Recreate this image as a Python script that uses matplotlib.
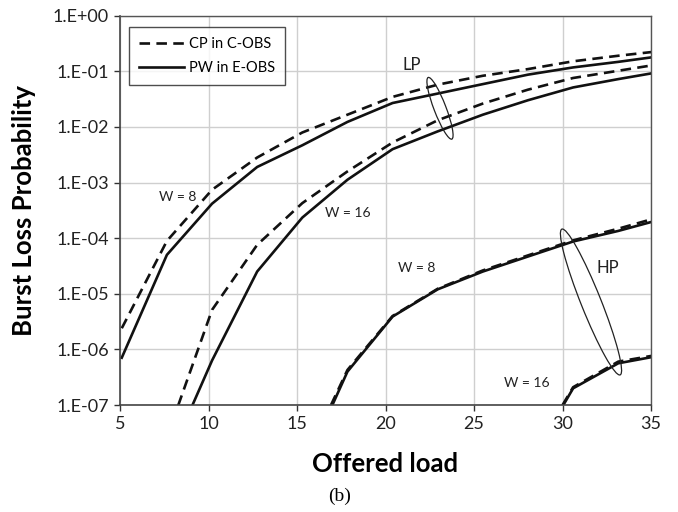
import numpy as np
import matplotlib
matplotlib.use("Agg")
import matplotlib.pyplot as plt
from matplotlib.patches import Ellipse
from matplotlib.transforms import IdentityTransform
from matplotlib.lines import Line2D

# ---- data (offered load knots, log10 of burst loss probability) ----
load = [5.1, 7.65, 10.2, 12.75, 15.3, 17.85, 20.4, 22.95, 25.5, 28.05, 30.6, 33.15, 35.7]

lp_w8_pw = [-6.15, -4.30, -3.38, -2.72, -2.33, -1.91, -1.57, -1.40, -1.23, -1.06, -0.93, -0.83, -0.72]
lp_w8_cp = [-5.62, -4.05, -3.13, -2.55, -2.10, -1.78, -1.46, -1.24, -1.08, -0.96, -0.82, -0.72, -0.63]

lp_w16_pw_x = load[1:]
lp_w16_pw = [-8.05, -6.20, -4.60, -3.63, -2.95, -2.40, -2.08, -1.78, -1.52, -1.29, -1.14, -1.00]
lp_w16_cp_x = load[1:]
lp_w16_cp = [-7.58, -5.29, -4.12, -3.37, -2.80, -2.28, -1.88, -1.58, -1.33, -1.12, -0.99, -0.86]

hp_w8_x = load[4:]
hp_w8_pw = [-8.20, -6.40, -5.41, -4.92, -4.60, -4.33, -4.06, -3.87, -3.65]
hp_w8_cp = [-8.10, -6.37, -5.40, -4.91, -4.58, -4.31, -4.04, -3.83, -3.60]

hp_w16_x = load[9:]
hp_w16_pw = [-8.09, -6.70, -6.25, -6.10]
hp_w16_cp = [-8.05, -6.68, -6.22, -6.08]

yticks = [1e0, 1e-1, 1e-2, 1e-3, 1e-4, 1e-5, 1e-6, 1e-7]
ytick_labels = ["1.E+00", "1.E-01", "1.E-02", "1.E-03", "1.E-04", "1.E-05", "1.E-06", "1.E-07"]
xticks = [5, 10, 15, 20, 25, 30, 35]

plt.rcParams['font.family'] = ['Lato', 'DejaVu Sans']

W, H = 678, 512
fig = plt.figure(figsize=(W / 100, H / 100), dpi=100)
ax = fig.add_axes([120 / W, 1 - 405 / H, 531 / W, (405 - 15.7) / H])

lw = 1.9
dash = (4, 2.4)
col = '#111111'

def p(v):
    return 10 ** np.array(v)

ax.plot(load, p(lp_w8_cp), color=col, lw=lw, dashes=dash)
ax.plot(load, p(lp_w8_pw), color=col, lw=lw)
ax.plot(lp_w16_cp_x, p(lp_w16_cp), color=col, lw=lw, dashes=dash)
ax.plot(lp_w16_pw_x, p(lp_w16_pw), color=col, lw=lw)
ax.plot(hp_w8_x, p(hp_w8_cp), color=col, lw=lw, dashes=dash)
ax.plot(hp_w8_x, p(hp_w8_pw), color=col, lw=lw)
ax.plot(hp_w16_x, p(hp_w16_cp), color=col, lw=lw, dashes=dash)
ax.plot(hp_w16_x, p(hp_w16_pw), color=col, lw=lw)

ax.set_yscale('log')
ax.set_xlim(5, 35)
ax.set_ylim(1e-7, 1e0)
ax.set_yticks(yticks)
ax.set_yticklabels(ytick_labels)
ax.minorticks_off()
ax.set_xticks(xticks)
ax.tick_params(axis='both', labelsize=13, colors='#333333', labelcolor='#222222',
               length=4, width=1, direction='out', pad=4)
ax.grid(True, color='#cfcfcf', lw=1)
ax.set_axisbelow(True)
for s in ['left', 'bottom']:
    ax.spines[s].set_color('#444444')
    ax.spines[s].set_linewidth(1.2)
for s in ['top', 'right']:
    ax.spines[s].set_color('#555555')
    ax.spines[s].set_linewidth(1.0)

ax.set_ylabel('Burst Loss Probability', fontsize=18.5, fontweight='bold', labelpad=12)
ax.set_xlabel('Offered load', fontsize=18.5, fontweight='bold', labelpad=14)
fig.text(340 / W, 1 - 496 / H, '(b)', fontsize=14, family='Liberation Serif',
         ha='center', va='center')

handles = [Line2D([], [], color=col, lw=lw, dashes=dash),
           Line2D([], [], color=col, lw=lw)]
leg = ax.legend(handles, ['CP in C-OBS', 'PW in E-OBS'], loc='upper left',
                bbox_to_anchor=(0.017, 0.972), fontsize=10.5, frameon=True,
                fancybox=False, edgecolor='#222222', handlelength=3.1,
                borderpad=0.7, labelspacing=0.7, handletextpad=0.3, borderaxespad=0)
leg.get_frame().set_linewidth(1.0)

def at(fx, fy, s, fs=10):
    ax.text(fx, fy, s, transform=ax.transAxes, fontsize=fs, ha='center', va='center', color='#222222')

at(0.109, 0.534, 'W = 8')
at(0.429, 0.493, 'W = 16')
at(0.550, 0.873, 'LP', 12)
at(0.559, 0.352, 'W = 8')
at(0.919, 0.352, 'HP', 12)
at(0.766, 0.057, 'W = 16')

fig.canvas.draw()
e1 = Ellipse((440, H - 108.3), 66, 12, angle=111, fill=False, ec='#222222', lw=0.9,
             transform=IdentityTransform())
e2 = Ellipse((591, H - 302), 157, 20, angle=111.8, fill=False, ec='#222222', lw=0.9,
             transform=IdentityTransform())
fig.add_artist(e1)
fig.add_artist(e2)

fig.savefig('out.png', dpi=100)
